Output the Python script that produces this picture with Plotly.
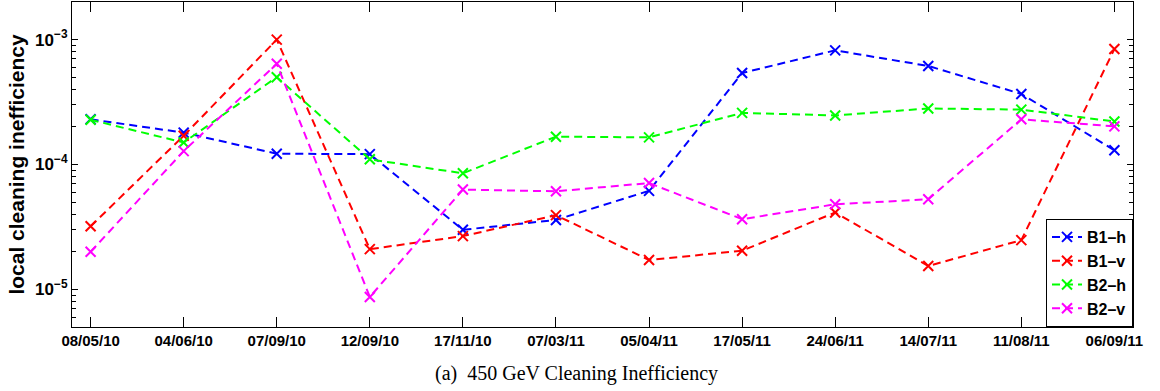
import plotly.graph_objects as go

dates = ["08/05/10", "04/06/10", "07/09/10", "12/09/10", "17/11/10", "07/03/11",
         "05/04/11", "17/05/11", "24/06/11", "14/07/11", "11/08/11", "06/09/11"]

b1_h = [2.30e-4, 1.80e-4, 1.22e-4, 1.21e-4, 3.0e-5, 3.6e-5, 6.15e-5, 5.4e-4, 8.2e-4, 6.15e-4, 3.67e-4, 1.30e-4]
b1_v = [3.2e-5, 1.7e-4, 1.0e-3, 2.1e-5, 2.67e-5, 3.93e-5, 1.72e-5, 2.04e-5, 4.13e-5, 1.54e-5, 2.48e-5, 8.4e-4]
b2_h = [2.28e-4, 1.50e-4, 5.0e-4, 1.10e-4, 8.5e-5, 1.67e-4, 1.65e-4, 2.59e-4, 2.47e-4, 2.81e-4, 2.75e-4, 2.21e-4]
b2_v = [2.0e-5, 1.28e-4, 6.4e-4, 8.7e-6, 6.3e-5, 6.1e-5, 7.1e-5, 3.65e-5, 4.8e-5, 5.27e-5, 2.30e-4, 2.02e-4]

series_names = ["B1–h", "B1–v", "B2–h", "B2–v"]
series_values = [b1_h, b1_v, b2_h, b2_v]
series_colors = ["#0000ff", "#ff0000", "#00ff00", "#ff00ff"]

y_tick_vals = [1e-5, 1e-4, 1e-3]
y_tick_text = ["10<sup>−5</sup>", "10<sup>−4</sup>", "10<sup>−3</sup>"]
y_minor_vals = [m * 10.0 ** e for e in (-6, -5, -4, -3) for m in range(2, 10)]

fig = go.Figure()
for name, vals, col in zip(series_names, series_values, series_colors):
    fig.add_trace(go.Scatter(
        x=dates, y=vals, name=name, mode="lines+markers",
        line=dict(color=col, width=2, dash="8px,5px"),
        marker=dict(symbol="x-thin", size=10, color=col, line=dict(color=col, width=2)),
    ))

bold = dict(family="Liberation Sans", color="black", weight="bold")

fig.update_layout(
    width=1160, height=391,
    margin=dict(l=72, r=27, t=2, b=64),
    paper_bgcolor="white", plot_bgcolor="white",
    showlegend=True,
    legend=dict(
        x=1, y=0, xanchor="right", yanchor="bottom",
        bordercolor="black", borderwidth=1, bgcolor="white",
        font=dict(size=16, **bold),
        tracegroupgap=0, itemwidth=30,
    ),
    annotations=[dict(
        text="(a)  450 GeV Cleaning Inefficiency",
        xref="paper", yref="paper", x=0.4755, y=-0.1446,
        xanchor="center", yanchor="middle", showarrow=False,
        font=dict(family="Liberation Serif", size=20, color="black"),
    )],
)

fig.update_xaxes(
    type="category", range=[-0.2, 11.2],
    showline=True, linecolor="black", linewidth=1, mirror="ticks",
    ticks="inside", ticklen=10, tickcolor="black", tickwidth=1,
    showgrid=False, zeroline=False,
    tickfont=dict(size=15, **bold),
)

fig.update_yaxes(
    type="log", range=[-5.301, -2.699],
    tickmode="array", tickvals=y_tick_vals, ticktext=y_tick_text,
    showline=True, linecolor="black", linewidth=1, mirror="ticks",
    ticks="inside", ticklen=6, tickcolor="black", tickwidth=1,
    minor=dict(tickmode="array", tickvals=y_minor_vals, ticks="inside", ticklen=4,
               tickcolor="black", tickwidth=1, showgrid=False),
    showgrid=False, zeroline=False,
    tickfont=dict(size=17, **bold),
    title=dict(text="local cleaning inefficiency", font=dict(size=21, **bold), standoff=4),
)

fig.write_html("out.html")
